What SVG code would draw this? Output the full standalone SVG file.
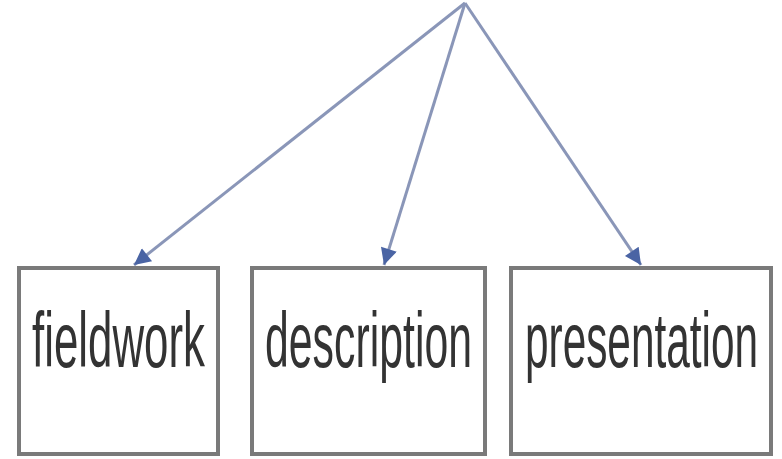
<svg xmlns="http://www.w3.org/2000/svg" width="782" height="459" viewBox="0 0 782 459">
<style>
.box{fill:#fff;stroke:#7a7a7a;stroke-width:4}
.lbl{font-family:"Liberation Sans",Arial,sans-serif;font-size:78px;fill:#333}
.con{stroke:#8a96b8;stroke-width:3;fill:none}
</style>
<defs>
<marker id="ah" viewBox="0 0 10 10" refX="10" refY="5" markerWidth="7" markerHeight="5.5" markerUnits="strokeWidth" orient="auto">
<path d="M0,0 L10,5 L0,10 z" fill="#4a64a4"/>
</marker>
</defs>
<rect width="782" height="459" fill="#fff"/>
<g id="connectors">
<line class="con" x1="465" y1="3" x2="134" y2="265" marker-end="url(#ah)"/>
<line class="con" x1="465" y1="3" x2="384" y2="265" marker-end="url(#ah)"/>
<line class="con" x1="465" y1="3" x2="641" y2="265" marker-end="url(#ah)"/>
</g>
<g id="fieldwork">
<rect class="box" x="19" y="268" width="199" height="186"/>
<text class="lbl" transform="translate(32,367) scale(0.55,1)" x="0" y="0" textLength="314.5" lengthAdjust="spacingAndGlyphs">fieldwork</text>
</g>
<g id="description">
<rect class="box" x="252" y="268" width="233" height="186"/>
<text class="lbl" transform="translate(265,367) scale(0.55,1)" x="0" y="0" textLength="376.4" lengthAdjust="spacingAndGlyphs">description</text>
</g>
<g id="presentation">
<rect class="box" x="511" y="268" width="260" height="186"/>
<text class="lbl" transform="translate(525,367) scale(0.55,1)" x="0" y="0" textLength="423.6" lengthAdjust="spacingAndGlyphs">presentation</text>
</g>
</svg>
